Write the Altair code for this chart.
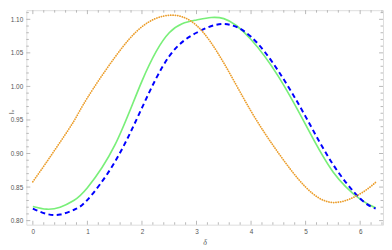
import altair as alt
import pandas as pd

# --- data ---
delta = [0, 0.25, 0.5, 0.75, 1.0, 1.5, 2.0, 2.5, 3.0, 3.5, 4.0, 4.5, 5.0, 5.5, 6.0, 6.2832]
orange_dotted = [0.858, 0.887, 0.917, 0.948, 0.983, 1.043, 1.089, 1.106, 1.091, 1.035,
                 0.963, 0.901, 0.850, 0.827, 0.840, 0.857]
green_solid = [0.821, 0.817, 0.820, 0.830, 0.849, 0.912, 1.008, 1.080, 1.099, 1.101,
               1.070, 1.015, 0.943, 0.873, 0.832, 0.819]
blue_dashed = [0.818, 0.810, 0.809, 0.816, 0.831, 0.887, 0.968, 1.045, 1.080, 1.093,
               1.074, 1.023, 0.955, 0.884, 0.833, 0.818]

x_major_ticks = [0, 1, 2, 3, 4, 5, 6]
x_minor_ticks = [round(0.2 * i, 1) for i in range(0, 33) if i % 5 != 0]
y_major_ticks = [0.80, 0.85, 0.90, 0.95, 1.00, 1.05, 1.10]
y_minor_ticks = [round(0.80 + 0.01 * i, 2) for i in range(0, 32) if i % 5 != 0]

X_DOMAIN = [-0.119, 6.419]
Y_DOMAIN = [0.7939, 1.1136]
W, H = 363.3, 218.5
MAJ, MIN = 4, 2.5
FRAME = "#a6a6a6"
LABEL = "#555555"

df = pd.DataFrame({
    "delta": delta * 3,
    "value": orange_dotted + green_solid + blue_dashed,
    "series": ["orange"] * len(delta) + ["green"] * len(delta) + ["blue"] * len(delta),
})

xscale = alt.Scale(domain=X_DOMAIN, nice=False, zero=False)
yscale = alt.Scale(domain=Y_DOMAIN, nice=False, zero=False)
xaxis = alt.Axis(values=x_major_ticks, format="d", ticks=False, domain=False, grid=False,
                 labelFontSize=6.5, labelColor=LABEL, labelPadding=4, labelFont="Liberation Sans",
                 title="δ", titleFontSize=8, titleFontStyle="italic", titleFontWeight="normal",
                 titleColor=LABEL, titleFont="Liberation Serif", titleY=18, titleBaseline="middle")
yaxis = alt.Axis(values=y_major_ticks, format=".2f", ticks=False, domain=False, grid=False,
                 labelFontSize=6.5, labelColor=LABEL, labelPadding=3.7, labelFont="Liberation Sans",
                 title="Iᵥ", titleFontSize=7, titleFontWeight="normal", titleColor=LABEL,
                 titleFont="DejaVu Sans", titleX=-14.8, titleY=103, titleAngle=270,
                 titleAlign="center", titleBaseline="middle")


def X(field):
    return alt.X(field, type="quantitative", scale=xscale, axis=xaxis)


def Y(field):
    return alt.Y(field, type="quantitative", scale=yscale, axis=yaxis)


base = alt.Chart(df)
green = base.transform_filter(alt.datum.series == "green").mark_line(
    color="#79ef79", strokeWidth=1.7, interpolate="natural"
).encode(x=X("delta"), y=Y("value"))
blue = base.transform_filter(alt.datum.series == "blue").mark_line(
    color="#0000ff", strokeWidth=2, strokeDash=[5, 3.5], interpolate="natural"
).encode(x=X("delta"), y=Y("value"))
orange = base.transform_filter(alt.datum.series == "orange").mark_line(
    color="#eb9d2a", strokeWidth=1.8, strokeDash=[0.1, 2.3], strokeCap="round",
    interpolate="natural"
).encode(x=X("delta"), y=Y("value"))


def xticks(vals, length):
    d = pd.DataFrame({"t": vals})
    c = alt.Chart(d).mark_rule(color=FRAME, strokeWidth=0.8)
    return [
        c.encode(x=X("t"), y=alt.value(H), y2=alt.value(H - length)),
        c.encode(x=X("t"), y=alt.value(0), y2=alt.value(length)),
    ]


def yticks(vals, length):
    d = pd.DataFrame({"t": vals})
    c = alt.Chart(d).mark_rule(color=FRAME, strokeWidth=0.8)
    return [
        c.encode(y=Y("t"), x=alt.value(0), x2=alt.value(length)),
        c.encode(y=Y("t"), x=alt.value(W), x2=alt.value(W - length)),
    ]


layers = (xticks(x_major_ticks, MAJ) + xticks(x_minor_ticks, MIN)
          + yticks(y_major_ticks, MAJ) + yticks(y_minor_ticks, MIN)
          + [green, blue, orange])

chart = alt.layer(*layers).properties(
    width=W, height=H,
    autosize=alt.AutoSizeParams(type="none"),
    padding={"left": 18.7, "top": 0, "right": 1, "bottom": 22},
).configure_view(stroke=FRAME, strokeWidth=1).configure(background="white")

chart.save("out.html", embed_options={"renderer": "svg", "actions": False})
